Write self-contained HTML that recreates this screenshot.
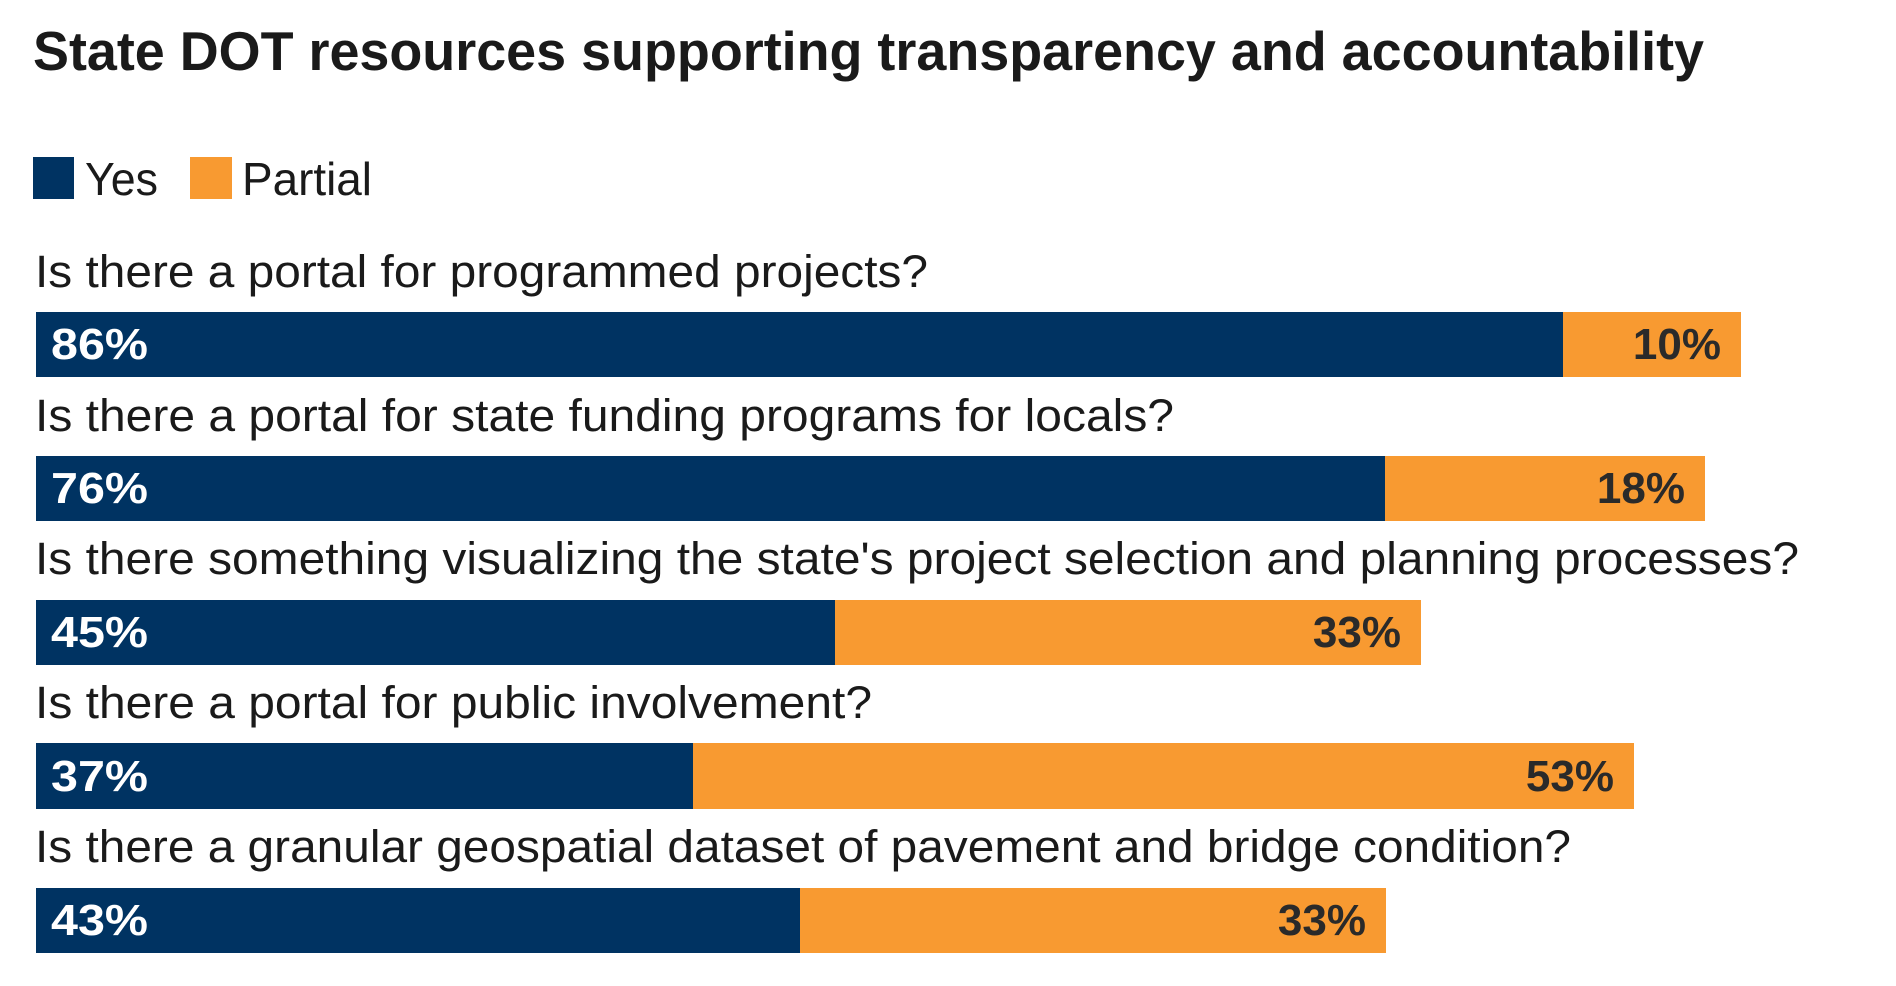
<!DOCTYPE html>
<html><head><meta charset="utf-8"><style>
html,body{margin:0;padding:0;background:#fff;}
svg{display:block;}
text{font-family:"Liberation Sans",Arial,sans-serif;}
</style></head><body>
<svg width="1896" height="986" viewBox="0 0 1896 986" xmlns="http://www.w3.org/2000/svg">
<rect width="1896" height="986" fill="#fff"/>
<text x="33" y="70" font-size="55" font-weight="bold" fill="#1a1a1a" textLength="1671" lengthAdjust="spacingAndGlyphs">State DOT resources supporting transparency and accountability</text>
<rect x="33" y="157" width="41" height="42" fill="#003362"/>
<text x="85" y="195" font-size="46" fill="#1a1a1a" textLength="73" lengthAdjust="spacingAndGlyphs">Yes</text>
<rect x="190" y="157" width="42" height="42" fill="#F89A31"/>
<text x="242" y="195" font-size="46" fill="#1a1a1a" textLength="130" lengthAdjust="spacingAndGlyphs">Partial</text>

<g font-size="45" fill="#1a1a1a">
<text x="35" y="287" textLength="893" lengthAdjust="spacingAndGlyphs">Is there a portal for programmed projects?</text>
<text x="35" y="431" textLength="1139" lengthAdjust="spacingAndGlyphs">Is there a portal for state funding programs for locals?</text>
<text x="35" y="574" textLength="1764" lengthAdjust="spacingAndGlyphs">Is there something visualizing the state's project selection and planning processes?</text>
<text x="35" y="718" textLength="837" lengthAdjust="spacingAndGlyphs">Is there a portal for public involvement?</text>
<text x="35" y="862" textLength="1536" lengthAdjust="spacingAndGlyphs">Is there a granular geospatial dataset of pavement and bridge condition?</text>
</g>

<rect x="36" y="312" width="1527" height="65" fill="#003362"/>
<rect x="1563" y="312" width="178" height="65" fill="#F89A31"/>
<rect x="36" y="456" width="1349" height="65" fill="#003362"/>
<rect x="1385" y="456" width="320" height="65" fill="#F89A31"/>
<rect x="36" y="600" width="799" height="65" fill="#003362"/>
<rect x="835" y="600" width="586" height="65" fill="#F89A31"/>
<rect x="36" y="743" width="657" height="66" fill="#003362"/>
<rect x="693" y="743" width="941" height="66" fill="#F89A31"/>
<rect x="36" y="888" width="764" height="65" fill="#003362"/>
<rect x="800" y="888" width="586" height="65" fill="#F89A31"/>

<g font-size="44" font-weight="bold" fill="#fff">
<text x="51" y="359" textLength="97" lengthAdjust="spacingAndGlyphs">86%</text>
<text x="51" y="503" textLength="97" lengthAdjust="spacingAndGlyphs">76%</text>
<text x="51" y="647" textLength="97" lengthAdjust="spacingAndGlyphs">45%</text>
<text x="51" y="791" textLength="97" lengthAdjust="spacingAndGlyphs">37%</text>
<text x="51" y="935" textLength="97" lengthAdjust="spacingAndGlyphs">43%</text>
</g>
<g font-size="44" font-weight="bold" fill="#2a2a2a" text-anchor="end">
<text x="1721" y="359">10%</text>
<text x="1685" y="503">18%</text>
<text x="1401" y="647">33%</text>
<text x="1614" y="791">53%</text>
<text x="1366" y="935">33%</text>
</g>
</svg>
</body></html>
